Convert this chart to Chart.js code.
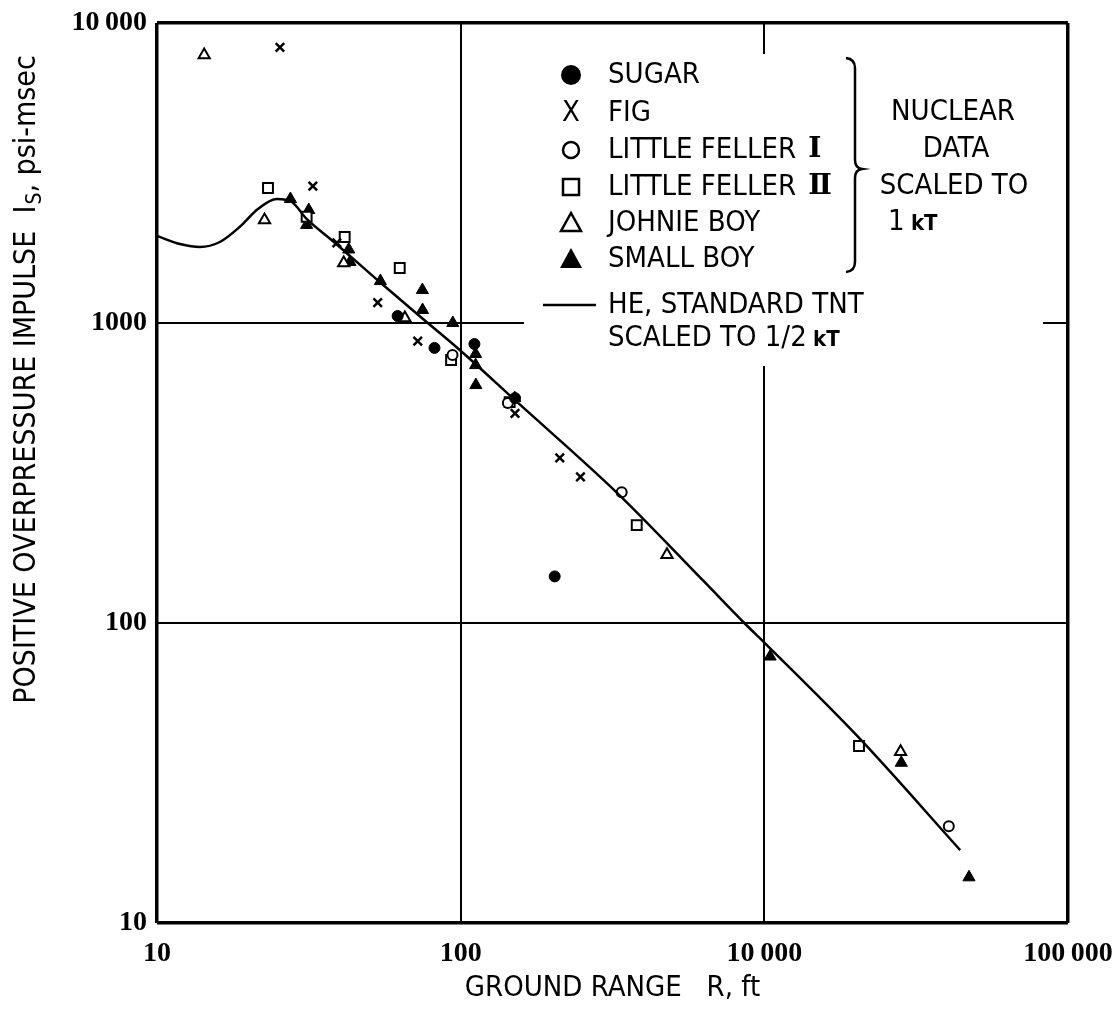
<!DOCTYPE html>
<html>
<head>
<meta charset="utf-8">
<script src="https://cdn.jsdelivr.net/npm/chart.js@4.4.1/dist/chart.umd.min.js"></script>
<style>
  html, body { margin: 0; padding: 0; background: #fff; }
  #wrap { width: 1117px; height: 1010px; position: relative; }
</style>
</head>
<body>
<div id="wrap"><canvas id="impulseChart"></canvas></div>
<script>
// ground range R (ft) and impulse Is (psi-msec)
const sugarR = [62, 82, 111, 151, 204];
const sugarI = [1055, 826, 851, 562, 143];

const figR = [25.4, 32.6, 39.1, 53.3, 72.2, 151, 212, 248];
const figI = [8300, 2860, 1850, 1170, 870, 500, 355, 307];

const feller1R = [94, 143, 339, 4050];
const feller1I = [782, 541, 273, 21];

const feller2R = [23.2, 31.1, 41.5, 63, 93, 145, 380, 2050];
const feller2I = [2820, 2260, 1935, 1525, 753, 545, 212, 38.9];

const johnieR = [14.3, 22.6, 41.2, 65.5, 478, 2810];
const johnieI = [7820, 2205, 1585, 1039, 169, 37.2];

const smallBoyR = [27.5, 31.6, 31.1, 42.8, 43.2, 54.4, 74.8, 74.9, 94.2, 112, 112, 112.2, 150.7, 1045, 2825, 4720];
const smallBoyI = [2590, 2380, 2123, 1758, 1597, 1380, 1288, 1105, 1000, 788, 724, 621, 562, 77.3, 34.2, 14.2];

// HE standard TNT curve scaled to 1/2 kT
const heR = [10, 11.9, 13.85, 16.1, 18.7, 21.5, 24.8, 27.8, 31.1, 37.9, 54.6, 74.5, 99.3, 150.7, 328, 635, 859, 1000, 2037, 4415];
const heI = [1950, 1834, 1792, 1862, 2089, 2399, 2590, 2531, 2222, 1877, 1359, 1039, 813, 554, 271, 137, 100, 86, 41.7, 17.5];

const xTickValues = [10, 100, 1000, 10000];
const xTickLabels = ["10", "100", "10\u2009000", "100\u2009000"];
const yTickValues = [10, 100, 1000, 10000];
const yTickLabels = ["10", "100", "1000", "10\u2009000"];

const textFont = '"DejaVu Sans Condensed", "DejaVu Sans", sans-serif';
const tickFont = '"Liberation Serif", "DejaVu Serif", serif';

const toPoints = (xs, ys) => xs.map((x, i) => ({ x: x, y: ys[i] }));

// white box behind the legend (grid lines are broken there in the original)
const legendPlugin = {
  id: "legendBox",
  beforeDatasetsDraw(chart) {
    const ctx = chart.ctx;
    ctx.save();
    ctx.fillStyle = "#fff";
    ctx.fillRect(524, 54, 519, 312);
    ctx.restore();
  },
  afterDatasetsDraw(chart) {
    const ctx = chart.ctx;
    ctx.save();
    ctx.fillStyle = "#000";
    ctx.strokeStyle = "#000";
    ctx.textBaseline = "middle";
    ctx.font = "29px " + textFont;

    const symX = 571;
    const txtX = 608;
    const rows = [75, 113, 150, 187, 223, 259];

    // filled circle
    ctx.beginPath();
    ctx.arc(symX, rows[0], 10, 0, Math.PI * 2);
    ctx.fill();
    // X
    ctx.textAlign = "center";
    ctx.fillText("X", symX, rows[1]);
    ctx.textAlign = "left";
    // open circle
    ctx.lineWidth = 2.5;
    ctx.beginPath();
    ctx.arc(symX, rows[2], 8, 0, Math.PI * 2);
    ctx.stroke();
    // open square
    ctx.strokeRect(symX - 8, rows[3] - 8, 16, 16);
    // open triangle
    ctx.beginPath();
    ctx.moveTo(symX, rows[4] - 10);
    ctx.lineTo(symX + 10, rows[4] + 8);
    ctx.lineTo(symX - 10, rows[4] + 8);
    ctx.closePath();
    ctx.stroke();
    // filled triangle
    ctx.beginPath();
    ctx.moveTo(symX, rows[5] - 11);
    ctx.lineTo(symX + 11, rows[5] + 9);
    ctx.lineTo(symX - 11, rows[5] + 9);
    ctx.closePath();
    ctx.fill();

    const names = ["SUGAR", "FIG", "LITTLE FELLER ", "LITTLE FELLER ", "JOHNIE BOY", "SMALL BOY"];
    names.forEach((n, i) => ctx.fillText(n, txtX, rows[i]));
    const w = ctx.measureText("LITTLE FELLER ").width;
    ctx.font = "bold 28px " + tickFont;
    ctx.fillText("\u2160", txtX + w + 4, rows[2]);
    ctx.fillText("\u2161", txtX + w + 4, rows[3]);

    // HE line entry
    ctx.lineWidth = 2.5;
    ctx.beginPath();
    ctx.moveTo(543, 305);
    ctx.lineTo(596, 305);
    ctx.stroke();
    ctx.font = "29px " + textFont;
    ctx.fillText("HE, STANDARD TNT", txtX, 305);
    ctx.fillText("SCALED TO 1/2", txtX, 338);
    const w2 = ctx.measureText("SCALED TO 1/2 ").width;
    ctx.font = "bold 22px " + textFont;
    ctx.fillText("kT", txtX + w2 - 2, 340);

    // bracket
    ctx.lineWidth = 2.5;
    ctx.beginPath();
    ctx.moveTo(846, 58);
    ctx.quadraticCurveTo(855, 59, 855, 68);
    ctx.lineTo(855, 160);
    ctx.quadraticCurveTo(855, 168, 862, 169);
    ctx.quadraticCurveTo(855, 170, 855, 178);
    ctx.lineTo(855, 262);
    ctx.quadraticCurveTo(855, 271, 846, 272);
    ctx.stroke();

    ctx.font = "29px " + textFont;
    ctx.textAlign = "center";
    ctx.fillText("NUCLEAR", 953, 112);
    ctx.fillText("DATA", 956, 149);
    ctx.fillText("SCALED TO", 954, 186);
    ctx.textAlign = "left";
    ctx.fillText("1", 888, 222);
    const w3 = ctx.measureText("1 ").width;
    ctx.font = "bold 22px " + textFont;
    ctx.fillText("kT", 888 + w3 - 2, 224);
    ctx.restore();
  },
};

// y axis title with the subscript on I
const yTitlePlugin = {
  id: "yTitle",
  afterDraw(chart) {
    const ctx = chart.ctx;
    ctx.save();
    ctx.translate(27, 380);
    ctx.rotate(-Math.PI / 2);
    ctx.fillStyle = "#000";
    ctx.textBaseline = "middle";
    const head = "POSITIVE OVERPRESSURE IMPULSE  I";
    const sub = "S";
    const tail = ", psi-msec";
    ctx.font = "30px " + textFont;
    const w1 = ctx.measureText(head).width;
    const w3 = ctx.measureText(tail).width;
    ctx.font = "21px " + textFont;
    const w2 = ctx.measureText(sub).width;
    let x = -(w1 + w2 + w3) / 2;
    ctx.font = "30px " + textFont;
    ctx.fillText(head, x, 0);
    x += w1 + 1;
    ctx.font = "21px " + textFont;
    ctx.fillText(sub, x, 9);
    x += w2;
    ctx.font = "30px " + textFont;
    ctx.fillText(tail, x, 0);
    ctx.restore();
  },
};

const gridWidth = (c) => (c.index === 0 || c.index === 3 ? 3.5 : 2);

new Chart(document.getElementById("impulseChart"), {
  type: "scatter",
  data: {
    datasets: [
      {
        label: "HE, STANDARD TNT SCALED TO 1/2 kT",
        data: toPoints(heR, heI),
        showLine: true,
        borderColor: "#000",
        borderWidth: 2.5,
        pointRadius: 0,
        cubicInterpolationMode: "monotone",
      },
      {
        label: "SUGAR",
        data: toPoints(sugarR, sugarI),
        pointStyle: "circle",
        pointRadius: 5.5,
        backgroundColor: "#000",
        borderColor: "#000",
        borderWidth: 1,
      },
      {
        label: "FIG",
        data: toPoints(figR, figI),
        pointStyle: "crossRot",
        pointRadius: 6,
        borderColor: "#000",
        borderWidth: 2.5,
      },
      {
        label: "LITTLE FELLER I",
        data: toPoints(feller1R, feller1I),
        pointStyle: "circle",
        pointRadius: 5,
        backgroundColor: "#fff",
        borderColor: "#000",
        borderWidth: 2,
      },
      {
        label: "LITTLE FELLER II",
        data: toPoints(feller2R, feller2I),
        pointStyle: "rect",
        pointRadius: 7,
        backgroundColor: "#fff",
        borderColor: "#000",
        borderWidth: 2,
      },
      {
        label: "JOHNIE BOY",
        data: toPoints(johnieR, johnieI),
        pointStyle: "triangle",
        pointRadius: 6.5,
        backgroundColor: "#fff",
        borderColor: "#000",
        borderWidth: 2,
      },
      {
        label: "SMALL BOY",
        data: toPoints(smallBoyR, smallBoyI),
        pointStyle: "triangle",
        pointRadius: 7,
        backgroundColor: "#000",
        borderColor: "#000",
        borderWidth: 1,
      },
    ],
  },
  options: {
    responsive: true,
    maintainAspectRatio: false,
    animation: false,
    layout: {
      padding: { left: 0, top: 23, right: 49, bottom: 0 },
    },
    scales: {
      x: {
        type: "logarithmic",
        min: 10,
        max: 10000,
        afterBuildTicks: (s) => {
          s.ticks = xTickValues.map((v) => ({ value: v }));
        },
        afterFit: (s) => {
          s.height = 87;
          s.paddingLeft = 0;
          s.paddingRight = 0;
        },
        grid: {
          color: "#000",
          lineWidth: gridWidth,
          drawTicks: false,
        },
        border: {
          display: false,
        },
        ticks: {
          autoSkip: false,
          maxRotation: 0,
          padding: 14,
          color: "#000",
          font: { family: tickFont, size: 28, weight: "bold" },
          callback: (v, i) => xTickLabels[i],
        },
        title: {
          display: true,
          text: "GROUND RANGE   R, ft",
          color: "#000",
          font: { family: textFont, size: 29 },
          padding: { top: 0, bottom: 4 },
        },
      },
      y: {
        type: "logarithmic",
        min: 10,
        max: 10000,
        afterBuildTicks: (s) => {
          s.ticks = yTickValues.map((v) => ({ value: v }));
        },
        afterFit: (s) => {
          s.width = 157;
          s.paddingTop = 0;
          s.paddingBottom = 0;
        },
        grid: {
          color: "#000",
          lineWidth: gridWidth,
          drawTicks: false,
        },
        border: {
          display: false,
        },
        ticks: {
          autoSkip: false,
          padding: 10,
          color: "#000",
          font: { family: tickFont, size: 28, weight: "bold" },
          callback: (v, i) => yTickLabels[i],
        },
      },
    },
    plugins: {
      legend: {
        display: false,
      },
      tooltip: {
        enabled: false,
      },
    },
  },
  plugins: [legendPlugin, yTitlePlugin],
});
</script>
</body>
</html>
